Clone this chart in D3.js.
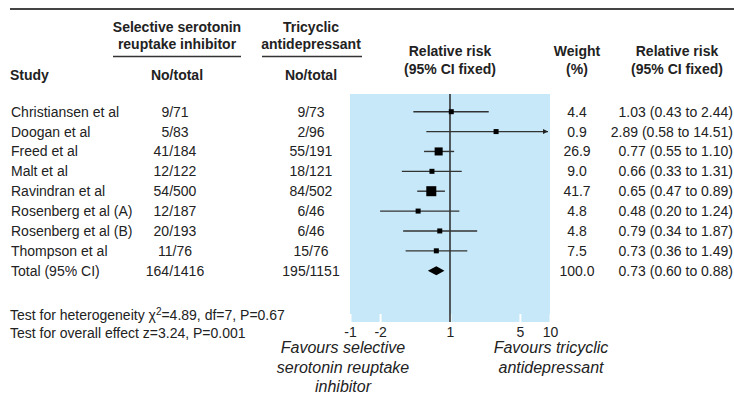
<!DOCTYPE html>
<html>
<head>
<meta charset="utf-8">
<script src="https://cdn.jsdelivr.net/npm/d3@7"></script>
<style>
  body { margin: 0; background: #fff; }
  svg { display: block; font-family: 'Liberation Sans', Arial, sans-serif; }
  text { fill: #222; }
  .hd { font-weight: bold; font-size: 14px; }
  .cell { font-size: 14px; }
  .fav { font-size: 16px; font-style: italic; }
</style>
</head>
<body>
<div id="chart"></div>
<script>
const studies = ['Christiansen et al', 'Doogan et al', 'Freed et al', 'Malt et al', 'Ravindran et al',
  'Rosenberg et al (A)', 'Rosenberg et al (B)', 'Thompson et al']
const ssriEvents = [9, 5, 41, 12, 54, 12, 20, 11]
const ssriTotals = [71, 83, 184, 122, 500, 187, 193, 76]
const tcaEvents = [9, 2, 55, 18, 84, 6, 6, 15]
const tcaTotals = [73, 96, 191, 121, 502, 46, 46, 76]
const weights = [4.4, 0.9, 26.9, 9.0, 41.7, 4.8, 4.8, 7.5]
const rr = [1.03, 2.89, 0.77, 0.66, 0.65, 0.48, 0.79, 0.73]
const rrLow = [0.43, 0.58, 0.55, 0.33, 0.47, 0.20, 0.34, 0.36]
const rrHigh = [2.44, 14.51, 1.10, 1.31, 0.89, 1.24, 1.87, 1.49]

const totalLabel = 'Total (95% CI)'
const totalSsri = [164, 1416]
const totalTca = [195, 1151]
const totalWeight = 100.0
const totalRR = [0.73, 0.60, 0.88]

const tickValues = [0.1, 0.2, 1, 5, 10]
const tickLabels = ['-1', '-2', '1', '5', '10']

const width = 734
const height = 394
const panelTop = 94
const panelBottom = 322

const svg = d3.select('#chart').append('svg')
  .attr('width', width)
  .attr('height', height)

const x = d3.scaleLog().domain([0.1, 10]).range([350, 550])
const y = d3.scaleLinear().domain([0, studies.length]).range([111.7, 270.7])
const side = d3.scaleSqrt().domain([0, d3.max(weights)]).range([0, 10])

// top rule
svg.append('line')
  .attr('x1', 10).attr('x2', width)
  .attr('y1', 9).attr('y2', 9)
  .attr('stroke', '#444').attr('stroke-width', 2)

// column headers
const headers = [
  { x: 177, lines: [['Selective serotonin', 32], ['reuptake inhibitor', 49]], rule: [113, 241] },
  { x: 311, lines: [['Tricyclic', 32], ['antidepressant', 49]], rule: [262, 362] },
  { x: 177, lines: [['No/total', 79.5]] },
  { x: 311, lines: [['No/total', 79.5]] },
  { x: 450, lines: [['Relative risk', 56], ['(95% CI fixed)', 73.5]] },
  { x: 577, lines: [['Weight', 56], ['(%)', 73.5]] },
  { x: 677, lines: [['Relative risk', 56], ['(95% CI fixed)', 73.5]] }
]
headers.forEach(h => {
  h.lines.forEach(([t, yy]) => {
    svg.append('text').attr('class', 'hd')
      .attr('x', h.x).attr('y', yy)
      .attr('text-anchor', 'middle')
      .text(t)
  })
  if (h.rule) {
    svg.append('line')
      .attr('x1', h.rule[0]).attr('x2', h.rule[1])
      .attr('y1', 56.5).attr('y2', 56.5)
      .attr('stroke', '#333').attr('stroke-width', 1.5)
  }
})
svg.append('text').attr('class', 'hd').attr('x', 10).attr('y', 79.5).text('Study')

// plot panel
svg.append('rect')
  .attr('x', x(0.1)).attr('y', panelTop)
  .attr('width', x(10) - x(0.1)).attr('height', panelBottom - panelTop)
  .attr('fill', '#c6e8f8')

// axis with white inward ticks
const axis = svg.append('g')
  .attr('transform', `translate(0,${panelBottom})`)
  .call(d3.axisBottom(x)
    .tickValues(tickValues)
    .tickSize(-8)
    .tickPadding(5)
    .tickFormat((d, i) => tickLabels[i]))
axis.select('.domain').remove()
axis.selectAll('.tick line').attr('stroke', '#fff').attr('stroke-width', 2)
axis.selectAll('.tick text')
  .attr('fill', '#222')
  .style('font-size', '14px')
  .style('font-family', "'Liberation Sans', Arial, sans-serif")

// line of no effect
svg.append('line')
  .attr('x1', x(1)).attr('x2', x(1))
  .attr('y1', panelTop).attr('y2', panelBottom)
  .attr('stroke', '#333').attr('stroke-width', 1.6)

// arrow marker
svg.append('defs').append('marker')
  .attr('id', 'arrow')
  .attr('viewBox', '0 0 10 10')
  .attr('refX', 10).attr('refY', 5)
  .attr('markerWidth', 6).attr('markerHeight', 5)
  .attr('markerUnits', 'userSpaceOnUse')
  .attr('orient', 'auto')
  .append('path').attr('d', 'M0,0L10,5L0,10Z').attr('fill', '#222')

const [dMin, dMax] = x.domain()

// rows
studies.forEach((s, i) => {
  const cy = y(i)
  const base = cy + 5
  svg.append('text').attr('class', 'cell').attr('x', 11).attr('y', base).text(s)
  svg.append('text').attr('class', 'cell').attr('x', 175).attr('y', base)
    .attr('text-anchor', 'middle').text(`${ssriEvents[i]}/${ssriTotals[i]}`)
  svg.append('text').attr('class', 'cell').attr('x', 311).attr('y', base)
    .attr('text-anchor', 'middle').text(`${tcaEvents[i]}/${tcaTotals[i]}`)
  svg.append('text').attr('class', 'cell').attr('x', 577).attr('y', base)
    .attr('text-anchor', 'middle').text(weights[i].toFixed(1))
  svg.append('text').attr('class', 'cell').attr('x', 733).attr('y', base)
    .attr('text-anchor', 'end')
    .text(`${rr[i].toFixed(2)} (${rrLow[i].toFixed(2)} to ${rrHigh[i].toFixed(2)})`)

  const clipped = rrHigh[i] > dMax
  const ci = svg.append('line')
    .attr('x1', x(Math.max(rrLow[i], dMin)))
    .attr('x2', clipped ? x(dMax) - 2 : x(rrHigh[i]))
    .attr('y1', cy).attr('y2', cy)
    .attr('stroke', '#333').attr('stroke-width', 1.4)
  if (clipped) ci.attr('marker-end', 'url(#arrow)')

  const sz = Math.max(5, side(weights[i]))
  svg.append('rect')
    .attr('x', x(rr[i]) - sz / 2).attr('y', cy - sz / 2)
    .attr('width', sz).attr('height', sz)
    .attr('fill', '#000')
})

// total row
const ty = y(studies.length)
svg.append('text').attr('class', 'cell').attr('x', 11).attr('y', ty + 5).text(totalLabel)
svg.append('text').attr('class', 'cell').attr('x', 175).attr('y', ty + 5)
  .attr('text-anchor', 'middle').text(`${totalSsri[0]}/${totalSsri[1]}`)
svg.append('text').attr('class', 'cell').attr('x', 311).attr('y', ty + 5)
  .attr('text-anchor', 'middle').text(`${totalTca[0]}/${totalTca[1]}`)
svg.append('text').attr('class', 'cell').attr('x', 577).attr('y', ty + 5)
  .attr('text-anchor', 'middle').text(totalWeight.toFixed(1))
svg.append('text').attr('class', 'cell').attr('x', 733).attr('y', ty + 5)
  .attr('text-anchor', 'end')
  .text(`${totalRR[0].toFixed(2)} (${totalRR[1].toFixed(2)} to ${totalRR[2].toFixed(2)})`)
svg.append('path')
  .attr('d', `M${x(totalRR[1])},${ty} L${x(totalRR[0])},${ty - 4.5} L${x(totalRR[2])},${ty} L${x(totalRR[0])},${ty + 4.5} Z`)
  .attr('fill', '#000')

// test statistics
const het = svg.append('text').attr('class', 'cell').attr('x', 10).attr('y', 320)
het.append('tspan').text('Test for heterogeneity \u03c7')
het.append('tspan').attr('dy', -5).style('font-size', '10px').text('2')
het.append('tspan').attr('dy', 5).text('=4.89, df=7, P=0.67')
svg.append('text').attr('class', 'cell').attr('x', 10).attr('y', 338)
  .text('Test for overall effect z=3.24, P=0.001')

// favours labels
const favLeft = ['Favours selective', 'serotonin reuptake', 'inhibitor']
const favRight = ['Favours tricyclic', 'antidepressant']
favLeft.forEach((t, i) => {
  svg.append('text').attr('class', 'fav').attr('x', 343).attr('y', 353 + i * 19.5)
    .attr('text-anchor', 'middle').text(t)
})
favRight.forEach((t, i) => {
  svg.append('text').attr('class', 'fav').attr('x', 551).attr('y', 353 + i * 19.5)
    .attr('text-anchor', 'middle').text(t)
})
</script>
</body>
</html>
